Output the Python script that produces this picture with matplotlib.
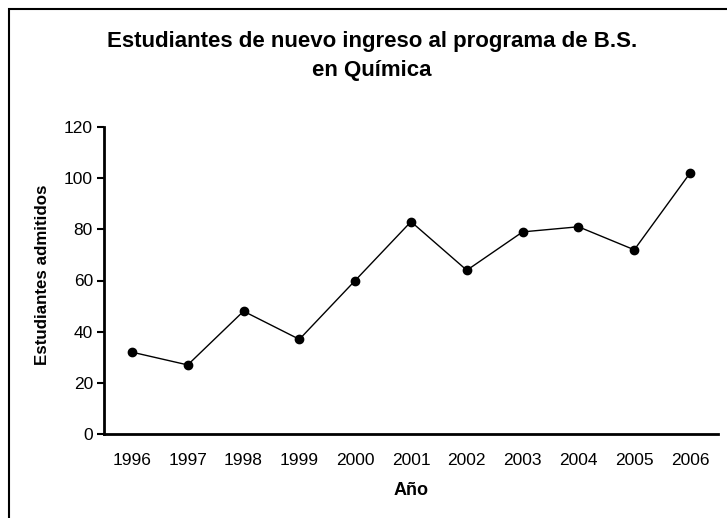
import matplotlib
matplotlib.use('Agg')
import matplotlib.pyplot as plt
from matplotlib.patches import Rectangle

plt.rcParams['font.family'] = ['Liberation Sans', 'DejaVu Sans']

# data
years = ['1996', '1997', '1998', '1999', '2000', '2001',
         '2002', '2003', '2004', '2005', '2006']
admitted = [32, 27, 48, 37, 60, 83, 64, 79, 81, 72, 102]
yticks = [0, 20, 40, 60, 80, 100, 120]

W, H = 727, 518
fig = plt.figure(figsize=(W / 100, H / 100), dpi=100, facecolor='white')

# outer chart frame (only top and left edges fall inside the picture)
fig.patches.append(Rectangle((9 / W, -0.1), 1.2, 1 - 9.5 / H + 0.1,
                             transform=fig.transFigure, fill=False,
                             edgecolor='black', linewidth=1.5))

ax = fig.add_axes([104 / W, 1 - 434 / H, (718 - 104) / W, (434 - 127) / H])
x = list(range(len(years)))
ax.plot(x, admitted, color='black', linewidth=1.0, marker='o',
        markersize=6, markerfacecolor='black', markeredgecolor='black')

ax.set_xlim(-0.5, len(years) - 0.5)
ax.set_ylim(0, 120)
ax.set_xticks(x)
ax.set_xticklabels(years, fontsize=12.5)
ax.set_yticks(yticks)
ax.set_yticklabels([str(t) for t in yticks], fontsize=12.5)
ax.tick_params(axis='x', length=0, pad=14)
ax.tick_params(axis='y', length=5, width=1.5, pad=3)

for s in ['top', 'right']:
    ax.spines[s].set_visible(False)
for s in ['left', 'bottom']:
    ax.spines[s].set_linewidth(2.0)

ax.set_xlabel('Año', fontsize=13, fontweight='bold', labelpad=10)
ax.set_ylabel('Estudiantes admitidos', fontsize=12.2, fontweight='bold', labelpad=10)
ax.yaxis.label.set_y(0.52)

fig.text(372 / W, 1 - 31 / H,
         'Estudiantes de nuevo ingreso al programa de B.S.\nen Química',
         ha='center', va='top', fontsize=16, fontweight='bold',
         linespacing=1.5)

plt.savefig('out.png', dpi=100, facecolor='white')
